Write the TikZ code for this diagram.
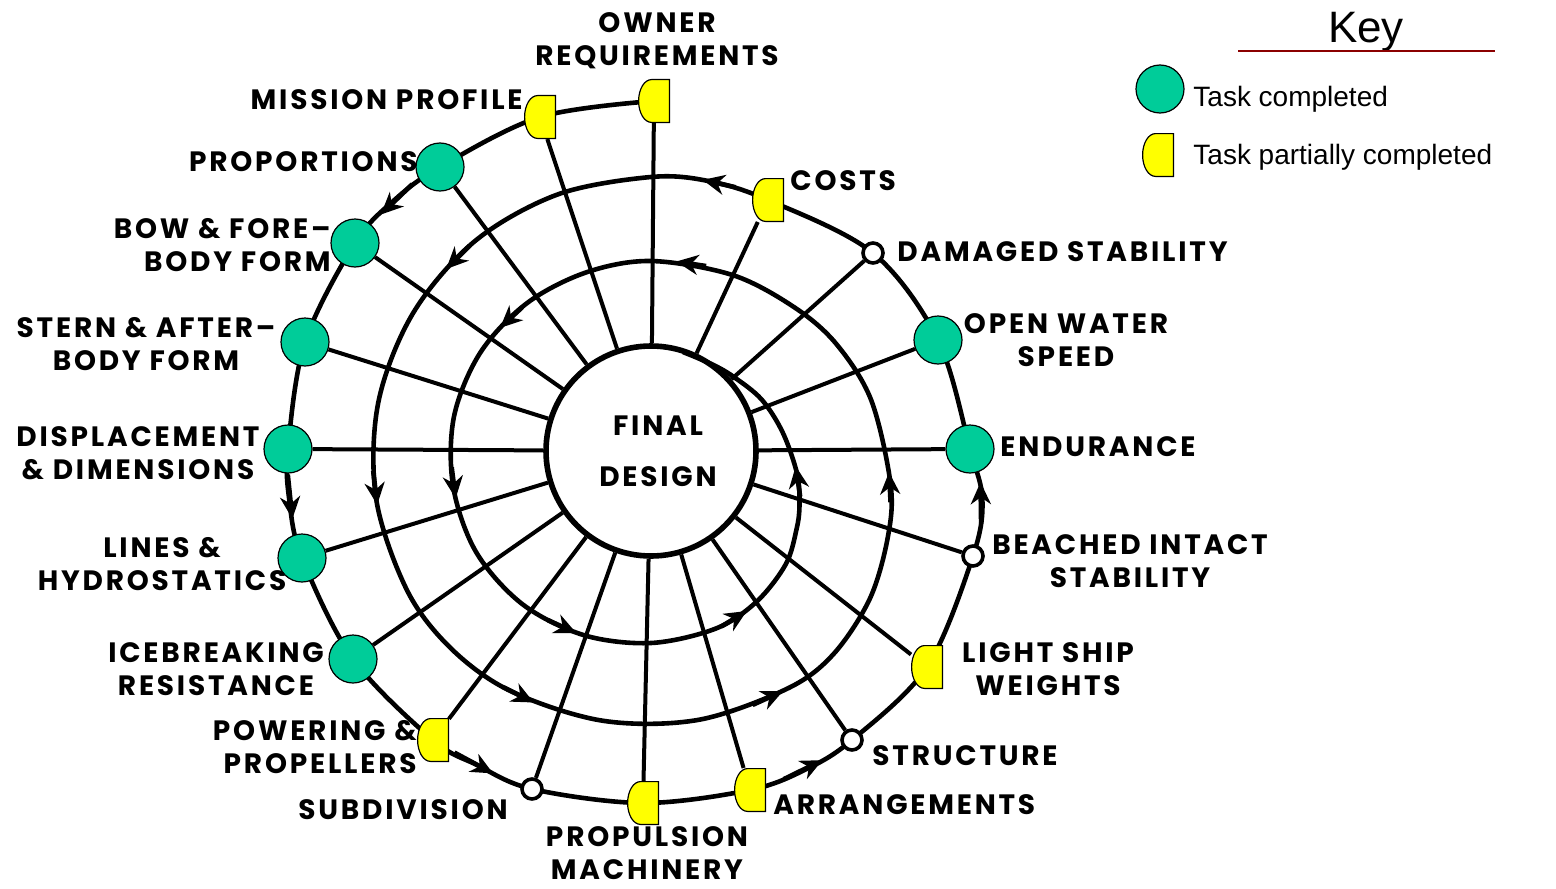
\documentclass[tikz,border=0pt]{standalone}
\usepackage{fontspec}
\setmainfont{Liberation Sans}
\newfontfamily\labfont{Poppins}[LetterSpace=10]
\usetikzlibrary{arrows.meta}
\pgfdeclarelayer{bg}
\pgfsetlayers{bg,main}
\definecolor{donegreen}{HTML}{00CC99}
\definecolor{partyellow}{HTML}{FFFF00}
\definecolor{keyred}{HTML}{8B0000}
\begin{document}
\begin{tikzpicture}[x=0.5pt,y=-0.5pt,
  done/.style={circle, draw=black, line width=0.6pt, fill=donegreen, minimum size=24pt, inner sep=0pt},
  partial/.style={rectangle, minimum width=16pt, minimum height=22pt, inner sep=0pt, outer sep=0pt,
     path picture={
       \filldraw[fill=partyellow, draw=black, line width=0.6pt]
         ([shift={(-0.3pt,-0.3pt)}]path picture bounding box.north east)
         -- ([shift={(-0.3pt,0.3pt)}]path picture bounding box.south east)
         -- ++(-9pt,0pt)
         arc[start angle=270, end angle=90, x radius=6.4pt, y radius=10.7pt]
         -- cycle;
     }},
  pending/.style={circle, draw=black, line width=1.8pt, fill=white, minimum size=10pt, inner sep=0pt},
  spiral/.style={line width=2.3pt, line join=round},
  spoke/.style={line width=2pt},
  lab/.style={font=\labfont\bfseries\fontsize{14}{16.5}\selectfont, inner sep=0pt},
  arr/.style={line width=2.3pt, -{Stealth[length=11pt,width=10pt,inset=3.5pt]}},
  keytext/.style={font=\fontsize{14}{16}\selectfont, inner sep=0pt},
]
\useasboundingbox (0,0) rectangle (1556,888);

% central node
\node[circle, draw, line width=2.8pt, minimum size=105pt, inner sep=0pt, lab, align=center] (fd) at (651,451) {\hspace*{7pt}FINAL\\[9pt]\hspace*{7pt}DESIGN};

% task markers
\node[partial] (owner)   at (654,101) {};
\node[partial] (mission) at (540,117) {};
\node[done]    (prop)    at (440,167) {};
\node[done]    (bow)     at (355,243) {};
\node[done]    (stern)   at (305,342) {};
\node[done]    (disp)    at (288,449) {};
\node[done]    (lines)   at (302,558) {};
\node[done]    (ice)     at (353,659) {};
\node[partial] (power)   at (433,740) {};
\node[pending] (subdiv)  at (532,789) {};
\node[partial] (propul)  at (643,803) {};
\node[partial] (arrang)  at (750,790) {};
\node[pending] (struct)  at (852,740) {};
\node[partial] (light)   at (927,667) {};
\node[pending] (beach)   at (973,556) {};
\node[done]    (endur)   at (970,449) {};
\node[done]    (openw)   at (938,340) {};
\node[pending] (damaged) at (873,253) {};
\node[partial] (costs)   at (768,200) {};

% spokes
\foreach \n in {owner,mission,prop,bow,stern,disp,lines,ice,power,subdiv,propul,arrang,struct,light,beach,endur,openw,damaged,costs}
  \draw[spoke] (\n) -- (fd);

% spiral
\begin{pgfonlayer}{bg}
\begin{scope}[shift={(651,451)}]
\draw[spiral] plot[smooth, tension=0.55] coordinates {
 (owner.center) (mission.center) (prop.center) (-135.8:359) (bow.center) (stern.center) (disp.center) (-187.7:365)
 (lines.center) (ice.center) (power.center) (-240.9:359) (subdiv.center) (propul.center) (arrang.center) (-296:354)
 (struct.center) (light.center) (beach.center) (-351.6:335) (endur.center) (openw.center) (damaged.center) (costs.center)
 (-438:276) (-450:274) (-470:273) (-490:274) (-510:275) (-530:277) (-550:279) (-570:281) (-585:281) (-600:278)
 (-620:274) (-640:273) (-660:274) (-672:273) (-686:264) (-700:252) (-712:242) (-733:226) (-750:214) (-765:203)
 (-785:194) (-810:190) (-830:190) (-850:193) (-870:197) (-890:200) (-910:201) (-930:202) (-950:200) (-970:196)
 (-990:192) (-1010:189) (-1025:184) (-1040:176) (-1052:165) (-1060:158) (-1071:148) (-1088:133) (-1105:122)
 (-1122:111) (-1135:106) (-1152:104)};
% arrowheads along the spiral
\draw[arr] (-131.8:358) -- (-138.8:359);
\draw[arr] (-183.7:364) -- (-190.7:365);
\draw[arr] (-236.9:360) -- (-243.9:359);
\draw[arr] (-292:354) -- (-299:353.5);
\draw[arr] (-347.6:338) -- (-354.6:331);
\draw[arr] (-432.2:277) -- (-439.2:276);
\draw[arr] (-491.4:274) -- (-498.4:274);
\draw[arr] (-544.1:278.5) -- (-551.1:279);
\draw[arr] (-598:278.5) -- (-605:277.5);
\draw[arr] (-651.8:273.5) -- (-658.8:274);
\draw[arr] (-707.9:245) -- (-714.9:239);
\draw[arr] (-793.4:193) -- (-802.4:191.2);
\draw[arr] (-851.8:193) -- (-860.8:194.8);
\draw[arr] (-904.6:200) -- (-913.6:201);
\draw[arr] (-958.7:198) -- (-967.7:196.8);
\draw[arr] (-1011.9:189) -- (-1020.9:186.5);
\draw[arr] (-1063:156) -- (-1074:145.5);
\end{scope}
\end{pgfonlayer}

% labels
\node[lab, align=center] (l-owner) at (657,41) {OWNER\\REQUIREMENTS};
\node[lab, anchor=east] (l-mission) at (523,100) {MISSION PROFILE};
\node[lab, anchor=east] (l-prop) at (418,162) {PROPORTIONS};
\node[lab, align=right, anchor=east] (l-bow) at (331,245) {BOW \& FORE–\\BODY FORM};
\node[lab, align=center] (l-stern) at (146,344) {STERN \& AFTER–\\BODY FORM};
\node[lab, align=center] (l-disp) at (138,453) {DISPLACEMENT\\\& DIMENSIONS};
\node[lab, align=center] (l-lines) at (162,564) {LINES \&\\HYDROSTATICS};
\node[lab, align=center] (l-ice) at (216,669) {ICEBREAKING\\RESISTANCE};
\node[lab, align=right, anchor=east] (l-power) at (417,747) {POWERING \&\\PROPELLERS};
\node[lab] (l-subdiv) at (403,810) {SUBDIVISION};
\node[lab, align=center] (l-propul) at (647,853) {PROPULSION\\MACHINERY};
\node[lab, anchor=west] (l-arrang) at (773,805) {ARRANGEMENTS};
\node[lab, anchor=west] (l-struct) at (872,756) {STRUCTURE};
\node[lab, align=center] (l-light) at (1048,669) {LIGHT SHIP\\WEIGHTS};
\node[lab, align=center] (l-beach) at (1130,561) {BEACHED INTACT\\STABILITY};
\node[lab, anchor=west] (l-endur) at (1000,447) {ENDURANCE};
\node[lab, align=center] (l-openw) at (1066,340) {OPEN WATER\\SPEED};
\node[lab, anchor=west] (l-damaged) at (897,252) {DAMAGED STABILITY};
\node[lab, anchor=west] (l-costs) at (790,181) {COSTS};

% key
\node[font=\fontsize{22}{24}\selectfont, anchor=base, inner sep=0pt] (k-title) at (1366,43) {Key};
\coordinate (k-ul-a) at (1238,51);
\coordinate (k-ul-b) at (1495,51);
\draw[keyred, line width=1pt] (k-ul-a) -- (k-ul-b);
\node[done] (k-done) at (1160,89) {};
\node[partial] (k-part) at (1158,155) {};
\node[keytext, anchor=base west] (k-t1) at (1193,106) {Task completed};
\node[keytext, anchor=base west] (k-t2) at (1193,164) {Task partially completed};
\end{tikzpicture}
\end{document}
